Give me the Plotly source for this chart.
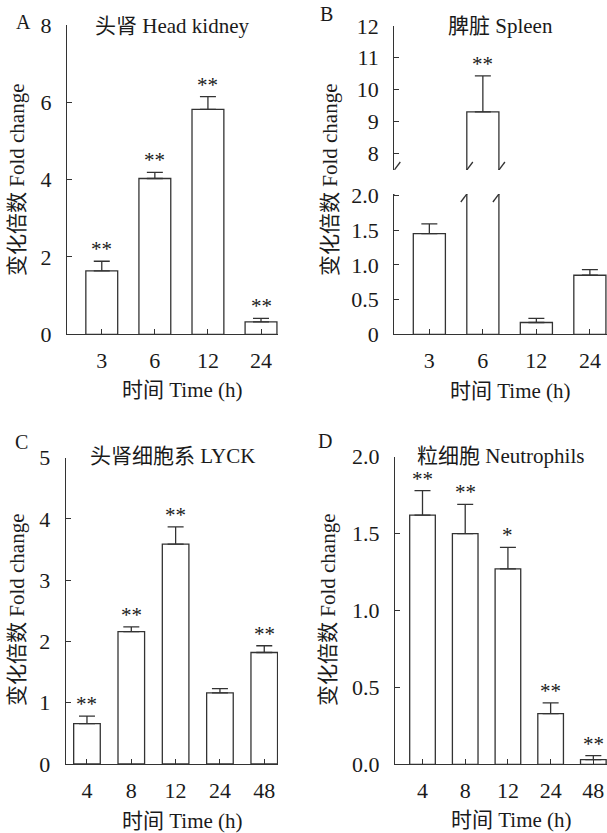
import plotly.graph_objects as go

# ---------------- data ----------------
A_times = ["3", "6", "12", "24"]
A_mean = [1.64, 4.03, 5.82, 0.32]
A_err = [0.25, 0.16, 0.33, 0.09]
A_sig = ["**", "**", "**", "**"]

B_times = ["3", "6", "12", "24"]
B_mean = [1.45, 9.30, 0.17, 0.85]
B_err = [0.14, 1.13, 0.06, 0.08]
B_sig = ["", "**", "", ""]

C_times = ["4", "8", "12", "24", "48"]
C_mean = [0.66, 2.16, 3.59, 1.16, 1.82]
C_err = [0.12, 0.08, 0.28, 0.07, 0.11]
C_sig = ["**", "**", "**", "", "**"]

D_times = ["4", "8", "12", "24", "48"]
D_mean = [1.62, 1.50, 1.27, 0.33, 0.03]
D_err = [0.16, 0.19, 0.14, 0.07, 0.026]
D_sig = ["**", "**", "*", "**", "**"]

A_title = "头肾 Head kidney"
B_title = "脾脏 Spleen"
C_title = "头肾细胞系 LYCK"
D_title = "粒细胞 Neutrophils"
y_label = "变化倍数 Fold change"
x_label = "时间 Time (h)"

# ---------------- layout helpers ----------------
W, H = 607, 833
FONT = "'Liberation Serif', 'Times New Roman', Times, 'DejaVu Serif', serif, 'Noto Sans CJK SC'"
LINE = "#333333"
TXT = "#1a1a1a"


def fx(px):
    return px / W


def fy(px):
    return 1 - px / H


fig = go.Figure()


def add_bars(xa, ya, mean, err):
    n = len(mean)
    fig.add_trace(go.Bar(
        x=list(range(n)), y=mean, width=0.6,
        marker=dict(color="white", line=dict(color=LINE, width=1.3)),
        error_y=dict(type="data", array=err, arrayminus=[0] * n, symmetric=False,
                     width=8, thickness=1.3, color=LINE),
        xaxis=xa, yaxis=ya, showlegend=False, hoverinfo="skip"))


def add_stars(xref, yref, mean, err, sig):
    for i, (m, e, s) in enumerate(zip(mean, err, sig)):
        if s:
            fig.add_annotation(x=i, y=m + e, xref=xref, yref=yref, text=s,
                               showarrow=False, yanchor="bottom", yshift=-2,
                               font=dict(family=FONT, size=21, color=TXT))


add_bars("x", "y", A_mean, A_err)
add_bars("x2", "y2", B_mean, B_err)
add_bars("x3", "y3", B_mean, B_err)
add_bars("x4", "y4", C_mean, C_err)
add_bars("x5", "y5", D_mean, D_err)

add_stars("x", "y", A_mean, A_err, A_sig)
add_stars("x2", "y2", B_mean, B_err, B_sig)
add_stars("x4", "y4", C_mean, C_err, C_sig)
add_stars("x5", "y5", D_mean, D_err, D_sig)

axis_common = dict(showline=True, linecolor=LINE, linewidth=1.3, ticks="inside",
                   ticklen=5, tickwidth=1.3, tickcolor=LINE, showgrid=False,
                   zeroline=False, fixedrange=True, automargin=False,
                   tickfont=dict(family=FONT, size=22, color=TXT))


def xaxis(dom, rng, labels, anchor, visible=True):
    d = dict(axis_common)
    d.update(domain=dom, range=rng, tickmode="array",
             tickvals=list(range(len(labels))), ticktext=labels, anchor=anchor,
             ticklabelstandoff=6)
    if not visible:
        d.update(visible=False)
    return d


def yaxis(dom, rng, tv, tt, anchor):
    d = dict(axis_common)
    d.update(domain=dom, range=rng, tickmode="array", tickvals=tv, ticktext=tt,
             anchor=anchor, ticklabelstandoff=10)
    return d


ab_range = [-0.655, 3.32]
fig.update_layout(
    xaxis=xaxis([fx(67), fx(278)], ab_range, A_times, "y"),
    yaxis=yaxis([fy(334.3), fy(25)], [0, 8], [0, 2, 4, 6, 8],
                ["0", "2", "4", "6", "8"], "x"),
    xaxis2=xaxis([fx(394.3), fx(607)], ab_range, B_times, "y2", visible=False),
    yaxis2=yaxis([fy(170), fy(26)], [7.47, 12], [8, 9, 10, 11, 12],
                 ["8", "9", "10", "11", "12"], "x2"),
    xaxis3=xaxis([fx(394.3), fx(607)], ab_range, B_times, "y3"),
    yaxis3=yaxis([fy(334.3), fy(194)], [0, 2.02], [0, 0.5, 1.0, 1.5, 2.0],
                 ["0", "0.5", "1.0", "1.5", "2.0"], "x3"),
    xaxis4=xaxis([fx(65.7), fx(278)], [-0.48, 4.31], C_times, "y4"),
    yaxis4=yaxis([fy(764), fy(457.7)], [0, 5], [0, 1, 2, 3, 4, 5],
                 ["0", "1", "2", "3", "4", "5"], "x4"),
    xaxis5=xaxis([fx(395), fx(607)], [-0.644, 4.32], D_times, "y5"),
    yaxis5=yaxis([fy(764.3), fy(456.7)], [0, 2], [0, 0.5, 1.0, 1.5, 2.0],
                 ["0.0", "0.5", "1.0", "1.5", "2.0"], "x5"),
)

# axis break marks for panel B (on the y axis and both edges of bar 2)
for xanchor in [ab_range[0], 1 - 0.3, 1 + 0.3]:
    for yref, yanchor in [("y2", 7.47), ("y3", 2.02)]:
        fig.add_shape(type="line", xref="x2" if yref == "y2" else "x3", yref=yref,
                      xsizemode="pixel", ysizemode="pixel",
                      xanchor=xanchor, yanchor=yanchor,
                      x0=-6, x1=6, y0=-8, y1=8,
                      line=dict(color=LINE, width=1.3))


def text(x, y, s, size=21, angle=0):
    fig.add_annotation(x=fx(x), y=fy(y), xref="paper", yref="paper", text=s,
                       showarrow=False, xanchor="center", yanchor="middle",
                       textangle=angle,
                       font=dict(family=FONT, size=size, color=TXT))


# panel titles
text(172, 26, A_title)
text(500, 26, B_title)
text(172, 456, C_title)
text(500, 456, D_title)
# panel letters
text(23, 22, "A", 20)
text(326, 14, "B", 20)
text(21, 442, "C", 20)
text(325, 441, "D", 20)
# axis titles
for (x, y) in [(17, 180), (330, 180), (17, 610), (328, 610)]:
    text(x, y, y_label, 21, -90)
for (x, y) in [(182, 390), (510, 391), (182, 821), (511, 820)]:
    text(x, y, x_label, 21)

fig.update_layout(width=W, height=H, margin=dict(l=0, r=0, t=0, b=0),
                  paper_bgcolor="white", plot_bgcolor="white", bargap=0.4)

fig.write_html("out.html", config={"displayModeBar": False},
               post_script="document.body.style.margin='0';document.body.style.padding='0';")
